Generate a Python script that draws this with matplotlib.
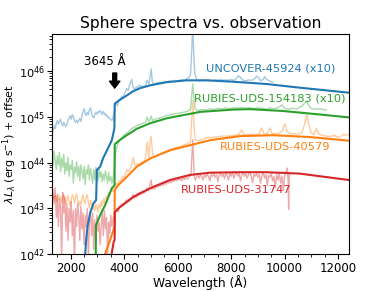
import numpy as np
import matplotlib
matplotlib.use("Agg")
import matplotlib.pyplot as plt

# ---------------- data (log10 of lambda L_lambda, erg/s, incl. offsets) ----------------
# Model (sphere) spectra
blue_mod_wl = [2480, 2541, 2578, 2627, 2728, 2851, 2951, 2978, 3101, 3213, 3399, 3537, 3634,
               3646, 3850, 4100, 4332, 4600, 4966, 5590, 6336, 7082, 8063, 9321, 10560, 12400]
blue_mod_lg = [41.7, 42.0, 42.31, 42.60, 42.90, 43.11, 43.18, 43.84, 43.91, 44.10, 44.32, 44.49, 44.75,
               45.29, 45.38, 45.47, 45.56, 45.63, 45.69, 45.76, 45.80, 45.80, 45.77, 45.72, 45.64, 45.53]

green_mod_wl = [2935, 2943, 3101, 3287, 3537, 3640, 3646, 3724, 3847, 4097, 4470, 4966, 5590,
                6843, 8063, 8698, 9929, 11187, 12400]
green_mod_lg = [41.8, 42.63, 42.85, 43.07, 43.44, 43.50, 44.40, 44.44, 44.50, 44.60, 44.74, 44.86, 44.97,
                45.11, 45.16, 45.17, 45.13, 45.06, 44.99]

orange_mod_wl = [3270, 3287, 3474, 3597, 3640, 3646, 3784, 4097, 4470, 4966, 5716, 6459, 7206,
                 8325, 9567, 10937, 12400]
orange_mod_lg = [41.8, 42.0, 42.31, 42.52, 42.61, 43.40, 43.51, 43.69, 43.91, 44.09, 44.27, 44.38, 44.49,
                 44.58, 44.60, 44.56, 44.48]

red_mod_wl = [3500, 3604, 3642, 3650, 3724, 3847, 4097, 4343, 4593, 5090, 5713, 6459, 7205,
              8325, 9321, 10560, 12400]
red_mod_lg = [41.9, 42.26, 42.31, 42.92, 42.96, 43.03, 43.14, 43.25, 43.33, 43.47, 43.62, 43.73, 43.78,
              43.79, 43.79, 43.76, 43.62]

# Observed spectra
blue_obs_wl = [1300, 1340, 1380, 1420, 1460, 1500, 1540, 1580, 1620, 1660, 1700, 1740, 1780, 1820, 1860,
               1900, 1940, 1980, 2020, 2060, 2100, 2140, 2180, 2220, 2260, 2300, 2340, 2380, 2420, 2460,
               2500, 2540, 2580, 2620, 2660, 2700, 2740, 2780, 2820, 2860, 2900, 2940, 2980, 3020, 3060,
               3100, 3140, 3180, 3220, 3260, 3300, 3340, 3380, 3420, 3460, 3500, 3540, 3580, 3620, 3660,
               3700, 3750, 3800, 3850, 3900, 3950, 4000, 4050, 4100, 4150, 4200, 4280, 4330, 4400, 4450,
               4500, 4560, 4620, 4680, 4740, 4800, 4860, 4920, 4960, 5007, 5050, 5100, 5200, 5300, 5400,
               5500, 5600, 5700, 5800, 5900, 6000, 6100, 6200, 6300, 6400, 6480, 6530, 6563, 6600, 6640,
               6700, 6800, 6900, 7000, 7100, 7200, 7300, 7400, 7500, 7600, 7700, 7800, 7900, 8000, 8100,
               8200, 8280, 8350, 8450, 8550, 8650, 8750, 8850, 8950, 9020, 9100, 9200, 9260, 9330, 9420,
               9500, 9560]
blue_obs_lg = [44.62, 44.70, 44.80, 44.74, 44.86, 44.92, 44.84, 44.90, 44.95, 44.86, 44.80, 44.88, 44.83, 44.78, 44.85,
               44.92, 44.98, 45.02, 44.95, 45.05, 45.00, 44.92, 44.88, 44.93, 44.87, 44.92, 44.97, 44.90, 45.02, 45.12,
               45.18, 45.08, 45.03, 45.10, 45.05, 45.16, 45.20, 45.08, 45.00, 44.98, 45.05, 45.10, 45.06, 45.12, 45.09,
               45.14, 45.10, 45.05, 45.12, 45.08, 45.03, 45.06, 44.98, 45.00, 44.96, 44.95, 44.92, 44.98, 45.10, 45.25,
               45.30, 45.24, 45.38, 45.36, 45.45, 45.40, 45.50, 45.55, 45.62, 45.58, 45.70, 45.82, 45.65, 45.60, 45.66,
               45.62, 45.70, 45.66, 45.68, 45.64, 45.70, 45.80, 45.72, 45.85, 46.05, 45.78, 45.72, 45.74, 45.76, 45.73,
               45.78, 45.76, 45.79, 45.77, 45.80, 45.78, 45.81, 45.80, 45.82, 45.85, 45.92, 46.50, 47.00, 46.40, 45.95,
               45.84, 45.78, 45.80, 45.79, 45.81, 45.80, 45.79, 45.81, 45.80, 45.82, 45.80, 45.81, 45.80, 45.82, 45.80,
               45.84, 45.90, 45.86, 45.80, 45.79, 45.81, 45.80, 45.82, 45.89, 45.86, 45.79, 45.82, 45.88, 45.82, 45.79,
               45.77, 45.76]

green_obs_wl = [1300, 1340, 1380, 1420, 1460, 1500, 1540, 1580, 1620, 1660, 1700, 1740, 1780, 1820, 1860,
                1900, 1940, 1980, 2020, 2060, 2100, 2140, 2180, 2220, 2260, 2300, 2340, 2380, 2420, 2460,
                2500, 2540, 2580, 2620, 2660, 2700, 2740, 2780, 2820, 2860, 2900, 2940, 2980, 3020, 3060,
                3100, 3140, 3180, 3220, 3260, 3300, 3340, 3380, 3420, 3460, 3500, 3540, 3580, 3620, 3660,
                3700, 3750, 3800, 3850, 3900, 3950, 4000, 4100, 4200, 4300, 4400, 4500, 4600, 4700, 4800,
                4861, 4920, 4960, 5007, 5060, 5150, 5300, 5450, 5600, 5750, 5900, 6050, 6200, 6350, 6480,
                6530, 6563, 6600, 6650, 6750, 6900, 7050, 7200, 7350, 7500, 7650, 7800, 7950, 8100, 8250,
                8400, 8550, 8700, 8850, 9000, 9150, 9300, 9450, 9600, 9750, 9900, 10000, 10150, 10300, 10450,
                10600, 10750, 10830, 10900, 11000, 11150, 11300, 11450, 11560]
green_obs_lg = [44.20, 43.95, 44.25, 44.05, 43.85, 44.15, 43.95, 44.22, 43.80, 44.10, 43.90, 44.18, 43.75, 44.00, 43.82,
                44.12, 43.70, 43.95, 43.85, 44.05, 43.55, 43.90, 43.78, 44.02, 43.70, 43.92, 43.60, 43.95, 43.80, 43.65,
                43.92, 43.52, 43.85, 43.75, 43.95, 43.62, 43.88, 43.70, 43.55, 43.85, 43.62, 43.90, 43.75, 43.60, 43.85,
                43.68, 43.80, 43.58, 43.75, 43.62, 43.82, 43.70, 43.55, 43.78, 43.60, 43.70, 43.55, 43.65, 43.80, 44.10,
                44.30, 44.38, 44.45, 44.50, 44.52, 44.58, 44.60, 44.65, 44.70, 44.75, 44.78, 44.82, 44.84, 44.86, 44.88,
                45.00, 44.90, 44.92, 45.02, 44.92, 44.95, 44.97, 45.00, 45.03, 45.05, 45.07, 45.08, 45.10, 45.12, 45.16,
                45.50, 45.72, 45.45, 45.18, 45.14, 45.16, 45.15, 45.18, 45.16, 45.19, 45.17, 45.20, 45.18, 45.20, 45.19,
                45.21, 45.19, 45.20, 45.18, 45.20, 45.19, 45.17, 45.20, 45.18, 45.20, 45.26, 45.19, 45.17, 45.19, 45.17,
                45.22, 45.30, 45.35, 45.25, 45.18, 45.17, 45.18, 45.16, 45.15]

orange_obs_wl = [1300, 1340, 1380, 1420, 1460, 1500, 1540, 1580, 1620, 1660, 1700, 1740, 1780, 1820, 1860,
                 1900, 1940, 1980, 2020, 2060, 2100, 2140, 2180, 2220, 2260, 2300, 2340, 2380, 2420, 2460,
                 2500, 2540, 2580, 2620, 2660, 2700, 2740, 2780, 2820, 2860, 2900, 2940, 2980, 3020, 3060,
                 3100, 3140, 3180, 3220, 3260, 3300, 3340, 3380, 3420, 3460, 3500, 3540, 3580, 3620, 3660,
                 3700, 3750, 3800, 3850, 3900, 3950, 4000, 4050, 4100, 4150, 4200, 4280, 4340, 4400, 4450,
                 4500, 4560, 4620, 4700, 4780, 4861, 4920, 4959, 5007, 5060, 5120, 5200, 5300, 5400, 5500,
                 5600, 5700, 5800, 5900, 6000, 6100, 6200, 6300, 6400, 6480, 6530, 6563, 6600, 6650, 6750,
                 6900, 7000, 7100, 7250, 7400, 7550, 7700, 7850, 8000, 8150, 8300, 8390, 8470, 8600, 8750,
                 8900, 9050, 9134, 9220, 9350, 9444, 9530, 9650, 9800, 9920, 10004, 10090, 10200, 10350, 10500,
                 10650, 10750, 10830, 10900, 11000, 11100, 11187, 11270, 11400, 11550, 11700, 11850, 12000, 12100, 12200,
                 12300, 12400]
orange_obs_lg = [43.25, 43.30, 43.18, 43.28, 43.22, 43.15, 43.30, 43.20, 43.26, 43.12, 43.24, 43.30, 43.18, 43.10, 43.22,
                 43.28, 43.15, 43.05, 43.20, 43.30, 43.25, 43.12, 43.22, 43.32, 43.18, 43.05, 43.15, 43.08, 43.22, 43.30,
                 43.15, 43.10, 43.25, 43.30, 43.12, 43.00, 43.18, 43.10, 42.98, 43.05, 42.95, 43.10, 43.02, 42.92, 43.08,
                 43.00, 43.15, 43.05, 43.20, 43.12, 43.25, 43.20, 43.30, 43.35, 43.28, 43.38, 43.42, 43.36, 43.45, 43.50,
                 43.55, 43.52, 43.60, 43.58, 43.65, 43.70, 43.68, 43.75, 43.85, 43.80, 43.84, 43.95, 44.12, 43.95, 43.92,
                 43.98, 43.96, 44.00, 44.02, 44.05, 44.45, 44.10, 44.40, 44.58, 44.20, 44.12, 44.15, 44.18, 44.20, 44.24,
                 44.26, 44.28, 44.30, 44.32, 44.34, 44.36, 44.38, 44.40, 44.42, 44.45, 45.00, 45.35, 44.95, 44.50, 44.48,
                 44.50, 44.52, 44.55, 44.55, 44.56, 44.57, 44.58, 44.58, 44.59, 44.60, 44.62, 44.72, 44.62, 44.61, 44.62,
                 44.61, 44.63, 44.76, 44.64, 44.63, 44.76, 44.64, 44.63, 44.64, 44.70, 44.85, 44.68, 44.64, 44.63, 44.62,
                 44.66, 44.85, 45.05, 44.85, 44.64, 44.62, 44.75, 44.62, 44.60, 44.58, 44.57, 44.60, 44.55, 44.57, 44.62,
                 44.60, 44.62]

red_obs_wl = [1300, 1340, 1380, 1420, 1460, 1500, 1540, 1580, 1620, 1660, 1700, 1740, 1780, 1820, 1860,
              1900, 1940, 1980, 2020, 2060, 2100, 2140, 2180, 2220, 2260, 2300, 2340, 2380, 2420, 2460,
              2500, 2540, 2580, 2620, 2660, 2700, 2740, 2780, 2820, 2860, 2900, 2940, 2980, 3020, 3060,
              3100, 3140, 3180, 3220, 3260, 3300, 3340, 3380, 3420, 3460, 3500, 3540, 3580, 3620, 3660,
              3700, 3740, 3780, 3820, 3860, 3900, 3940, 3980, 4020, 4060, 4100, 4140, 4180, 4220, 4260,
              4300, 4340, 4380, 4420, 4460, 4500, 4540, 4580, 4620, 4660, 4700, 4740, 4780, 4820, 4861,
              4900, 4960, 5007, 5050, 5100, 5150, 5200, 5250, 5300, 5350, 5400, 5450, 5500, 5550, 5600,
              5650, 5700, 5750, 5800, 5850, 5900, 5950, 6000, 6050, 6100, 6150, 6200, 6250, 6300, 6350,
              6400, 6450, 6500, 6540, 6563, 6590, 6620, 6660, 6700, 6750, 6800, 6850, 6900, 6950, 7000,
              7050, 7100, 7150, 7200, 7250, 7300, 7350, 7400, 7450, 7500, 7550, 7600, 7650, 7700, 7750,
              7800, 7850, 7900, 7950, 8000, 8050, 8100, 8150, 8200, 8250, 8300, 8350, 8400, 8450, 8500,
              8550, 8600, 8650, 8700, 8750, 8800, 8850, 8900, 8950, 9000, 9050, 9100, 9150, 9200, 9250,
              9300, 9350, 9400, 9450, 9500, 9550, 9600, 9650, 9700, 9750, 9800, 9850, 9900, 9950, 10000,
              10050, 10100, 10130, 10150, 10170, 10190]
red_obs_lg = [43.50, 43.40, 43.10, 43.45, 42.80, 43.30, 42.60, 43.20, 43.05, 41.80, 43.35, 42.90, 43.25, 42.50, 43.10,
              42.30, 43.00, 42.70, 43.15, 42.40, 42.95, 41.70, 43.00, 42.60, 43.10, 42.85, 42.30, 43.05, 42.55, 42.90,
              42.20, 42.85, 42.60, 43.00, 41.80, 42.70, 42.95, 42.40, 42.90, 42.10, 42.75, 42.35, 42.85, 42.50, 42.70,
              42.20, 42.60, 42.90, 42.40, 42.95, 42.55, 42.80, 41.90, 42.70, 42.45, 42.85, 42.60, 42.75, 42.88, 42.90,
              42.95, 43.00, 42.92, 43.05, 43.02, 43.10, 43.05, 43.12, 43.08, 43.18, 43.12, 43.20, 43.15, 43.22, 43.18,
              43.26, 43.30, 43.22, 43.28, 43.24, 43.32, 43.28, 43.34, 43.30, 43.36, 43.32, 43.38, 43.34, 43.40, 43.45,
              43.38, 43.50, 43.62, 43.42, 43.46, 43.42, 43.50, 43.46, 43.52, 43.48, 43.55, 43.50, 43.57, 43.52, 43.58,
              43.55, 43.60, 43.56, 43.62, 43.58, 43.64, 43.60, 43.66, 43.62, 43.65, 43.60, 43.67, 43.63, 43.68, 43.64,
              43.66, 43.70, 43.75, 44.20, 44.50, 44.10, 43.70, 43.62, 43.68, 43.72, 43.66, 43.74, 43.70, 43.62, 43.73,
              43.68, 43.75, 43.70, 43.60, 43.74, 43.70, 43.76, 43.68, 43.74, 43.58, 43.72, 43.76, 43.70, 43.75, 43.65,
              43.77, 43.72, 43.62, 43.76, 43.70, 43.78, 43.66, 43.74, 43.79, 43.70, 43.76, 43.60, 43.74, 43.78, 43.70,
              43.76, 43.66, 43.74, 43.78, 43.70, 43.56, 43.74, 43.70, 43.77, 43.68, 43.74, 43.55, 43.72, 43.78, 43.66,
              43.74, 43.50, 43.72, 43.68, 43.76, 43.60, 43.70, 43.45, 43.74, 43.62, 43.78, 43.55, 43.70, 43.40, 43.72,
              43.80, 43.88, 43.60, 42.98, 43.70, 43.75]

labels = ["UNCOVER-45924 (x10)", "RUBIES-UDS-154183 (x10)", "RUBIES-UDS-40579", "RUBIES-UDS-31747"]
label_pos = [(9480, 46.07), (9440, 45.40), (9660, 44.34), (8170, 43.40)]
balmer_limit = 3645

# ---------------- plot ----------------
colors = ["#1f77b4", "#2ca02c", "#ff7f0e", "#d62728"]
obs = [(blue_obs_wl, blue_obs_lg), (green_obs_wl, green_obs_lg),
       (orange_obs_wl, orange_obs_lg), (red_obs_wl, red_obs_lg)]
mods = [(blue_mod_wl, blue_mod_lg), (green_mod_wl, green_mod_lg),
        (orange_mod_wl, orange_mod_lg), (red_mod_wl, red_mod_lg)]

fig = plt.figure(figsize=(3.88, 2.91), dpi=100)
ax = fig.add_axes([0.134, 0.127, 0.765, 0.756])

for (w, l), c in zip(obs, colors):
    ax.plot(w, 10.0 ** np.array(l), color=c, alpha=0.4, lw=1.0)
for (w, l), c in zip(mods, colors):
    ax.plot(w, 10.0 ** np.array(l), color=c, lw=1.5)

for lab, (x, y), c in zip(labels, label_pos, colors):
    ax.text(x, 10 ** y, lab, color=c, fontsize=8.2, ha="center", va="center")

ax.annotate("", xy=(balmer_limit, 10 ** 45.63), xytext=(balmer_limit, 10 ** 45.96),
            arrowprops=dict(facecolor="black", edgecolor="black", width=2.8, headwidth=7.5,
                            headlength=5, shrink=0))
ax.text(3290, 10 ** 46.22, "3645 Å", fontsize=8.5, ha="center", va="center")

ax.set_yscale("log")
ax.set_xlim(1300, 12400)
ax.set_ylim(1e42, 6.5e46)
ax.minorticks_on()
ax.tick_params(labelsize=8.5, pad=2.5)
ax.tick_params(axis="y", labelsize=8.2, pad=1.5)
ax.set_xlabel("Wavelength (Å)", fontsize=8.8)
ax.xaxis.set_label_coords(0.5, -0.095)
ax.set_ylabel(r"$\lambda L_\lambda$ (erg s$^{-1}$) + offset", fontsize=8.0)
ax.yaxis.set_label_coords(-0.112, 0.5)
ax.set_title("Sphere spectra vs. observation", fontsize=11.2, pad=4)

fig.savefig("out.png", dpi=100)
